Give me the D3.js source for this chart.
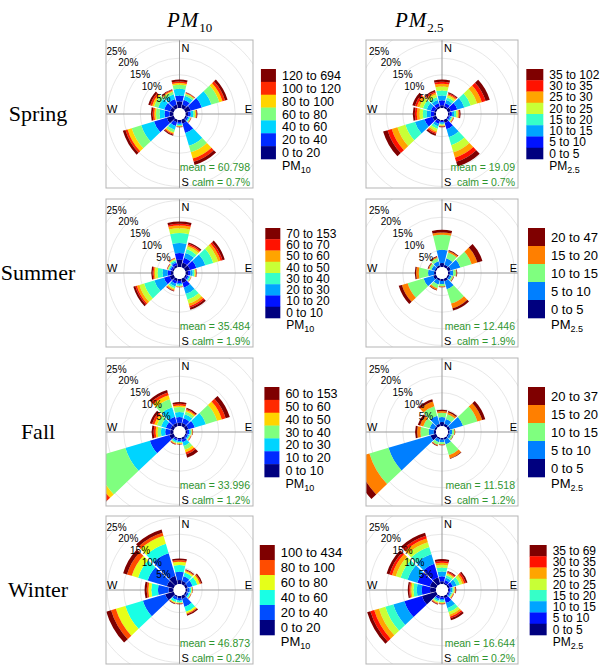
<!DOCTYPE html>
<html>
<head>
<meta charset="utf-8">
<script src="https://cdn.jsdelivr.net/npm/d3@7"></script>
<style>
  body { margin: 0; background: #fff; }
  svg text { font-family: "Liberation Sans", Arial, sans-serif; }
</style>
</head>
<body>
<div id="chart"></div>
<script>
// ---- data ----
var seasons = ["Spring", "Summer", "Fall", "Winter"];
var directions = [0, 30, 60, 90, 120, 150, 180, 210, 240, 270, 300, 330];
var ringPct = [5, 10, 15, 20, 25];

var pm10Mean = [60.798, 35.484, 33.996, 46.873];
var pm25Mean = [19.09, 12.446, 11.518, 16.644];
var calmPct = [0.7, 1.9, 1.2, 0.2];

var binsPM10Spring = ["0 to 20", "20 to 40", "40 to 60", "60 to 80", "80 to 100", "100 to 120", "120 to 694"];
var binsPM10Summer = ["0 to 10", "10 to 20", "20 to 30", "30 to 40", "40 to 50", "50 to 60", "60 to 70", "70 to 153"];
var binsPM10Fall = ["0 to 10", "10 to 20", "20 to 30", "30 to 40", "40 to 50", "50 to 60", "60 to 153"];
var binsPM10Winter = ["0 to 20", "20 to 40", "40 to 60", "60 to 80", "80 to 100", "100 to 434"];
var binsPM25Spring = ["0 to 5", "5 to 10", "10 to 15", "15 to 20", "20 to 25", "25 to 30", "30 to 35", "35 to 102"];
var binsPM25Summer = ["0 to 5", "5 to 10", "10 to 15", "15 to 20", "20 to 47"];
var binsPM25Fall = ["0 to 5", "5 to 10", "10 to 15", "15 to 20", "20 to 37"];
var binsPM25Winter = ["0 to 5", "5 to 10", "10 to 15", "15 to 20", "20 to 25", "25 to 30", "30 to 35", "35 to 69"];

// frequency (%) of each concentration bin, one row per direction (N, 30, 60 ... 330)
var freqPM10Spring = [
  [2.0, 1.8, 2.0, 1.2, 0.5, 0.5, 0.6],
  [1.2, 1.5, 1.2, 0.6, 0.2, 0.2, 0.1],
  [1.7, 3.5, 3.0, 2.5, 1.0, 0.8, 0.8],
  [0.8, 0.8, 0.8, 0.5, 0.3, 0.2, 0.2],
  [0.5, 0.5, 0.4, 0.3, 0.1, 0.1, 0.1],
  [1.2, 3.0, 4.0, 2.0, 2.0, 1.0, 1.0],
  [0.6, 0.5, 0.4, 0.3, 0.2, 0.1, 0.1],
  [0.8, 1.2, 1.2, 0.8, 0.4, 0.3, 0.3],
  [2.2, 4.0, 4.0, 3.0, 1.3, 0.7, 0.8],
  [1.2, 1.5, 1.5, 1.1, 0.5, 0.5, 0.5],
  [1.2, 1.8, 1.9, 1.3, 0.6, 0.6, 0.6],
  [1.2, 1.7, 1.5, 0.8, 0.3, 0.3, 0.2]
];
var freqPM25Spring = [
  [0.8, 1.5, 1.5, 1.5, 1.2, 0.8, 0.6, 0.7],
  [0.6, 1.0, 1.0, 0.8, 0.6, 0.4, 0.3, 0.3],
  [1.0, 2.0, 2.2, 2.0, 2.0, 1.5, 1.2, 1.3],
  [0.5, 0.7, 0.7, 0.6, 0.5, 0.3, 0.2, 0.3],
  [0.3, 0.4, 0.4, 0.3, 0.2, 0.2, 0.1, 0.1],
  [1.0, 2.0, 2.5, 2.5, 2.2, 1.7, 1.3, 1.5],
  [0.3, 0.4, 0.4, 0.3, 0.3, 0.2, 0.1, 0.2],
  [0.5, 0.8, 0.8, 0.8, 0.7, 0.5, 0.4, 0.5],
  [1.2, 2.5, 3.0, 3.0, 2.5, 1.8, 1.3, 1.4],
  [0.6, 1.0, 1.2, 1.2, 1.0, 0.8, 0.6, 0.6],
  [0.6, 1.1, 1.3, 1.2, 1.1, 0.8, 0.6, 0.8],
  [0.6, 1.0, 1.0, 0.9, 0.8, 0.6, 0.4, 0.4]
];
var freqPM10Summer = [
  [2.2, 2.0, 3.0, 3.0, 1.5, 0.8, 0.5, 0.7],
  [1.5, 1.5, 1.5, 1.2, 0.8, 0.5, 0.4, 0.4],
  [1.5, 2.0, 2.8, 2.5, 1.5, 0.8, 0.6, 0.7],
  [0.8, 0.7, 0.7, 0.5, 0.3, 0.2, 0.1, 0.1],
  [0.5, 0.5, 0.4, 0.3, 0.1, 0.1, 0.05, 0.05],
  [1.3, 1.5, 2.0, 1.8, 1.2, 0.8, 0.5, 0.6],
  [0.6, 0.6, 0.5, 0.4, 0.2, 0.1, 0.05, 0.05],
  [0.8, 0.8, 0.8, 0.6, 0.4, 0.3, 0.15, 0.15],
  [1.3, 1.8, 3.0, 3.2, 1.5, 0.8, 0.5, 0.6],
  [0.8, 1.0, 1.5, 1.5, 0.8, 0.4, 0.3, 0.4],
  [0.5, 0.5, 0.4, 0.3, 0.2, 0.1, 0.1, 0.1],
  [0.7, 0.7, 0.5, 0.4, 0.3, 0.2, 0.1, 0.1]
];
var freqPM25Summer = [
  [1.2, 4.0, 4.5, 0.7, 0.8],
  [0.8, 2.0, 1.8, 0.5, 0.3],
  [1.0, 3.0, 3.5, 1.8, 1.6],
  [0.6, 1.0, 0.8, 0.2, 0.2],
  [0.5, 0.7, 0.5, 0.15, 0.15],
  [0.8, 2.5, 4.5, 1.5, 0.7],
  [0.6, 0.9, 0.7, 0.2, 0.1],
  [0.6, 1.2, 1.2, 0.5, 0.2],
  [1.0, 3.0, 5.0, 1.8, 1.0],
  [0.6, 1.8, 2.8, 0.8, 0.4],
  [0.5, 1.0, 0.7, 0.3, 0.2],
  [0.6, 1.3, 1.0, 0.3, 0.3]
];
var freqPM10Fall = [
  [1.0, 1.7, 1.5, 1.5, 0.5, 0.5, 0.5],
  [1.0, 1.5, 1.3, 0.8, 0.5, 0.3, 0.4],
  [1.0, 2.0, 3.5, 3.5, 1.5, 1.2, 1.3],
  [0.5, 0.6, 0.5, 0.3, 0.2, 0.1, 0.1],
  [0.4, 0.5, 0.4, 0.3, 0.2, 0.1, 0.1],
  [0.6, 0.8, 1.2, 1.2, 0.8, 0.7, 1.0],
  [0.4, 0.5, 0.4, 0.3, 0.2, 0.1, 0.1],
  [0.4, 0.5, 0.5, 0.3, 0.2, 0.2, 0.1],
  [1.4, 6.1, 7.7, 10.3, 1.5, 1.3, 1.7],
  [1.0, 1.5, 1.3, 1.0, 0.6, 0.6, 0.6],
  [1.0, 1.5, 1.5, 1.3, 0.8, 0.7, 0.7],
  [1.0, 2.0, 3.0, 2.5, 1.2, 0.9, 0.8]
];
var freqPM25Fall = [
  [1.2, 1.5, 1.3, 0.5, 0.4],
  [0.8, 1.5, 1.5, 0.6, 0.4],
  [0.8, 4.0, 4.5, 1.5, 1.0],
  [0.5, 0.8, 0.6, 0.2, 0.1],
  [0.4, 0.7, 0.5, 0.1, 0.1],
  [0.6, 1.5, 3.4, 1.0, 0.2],
  [0.5, 0.8, 0.6, 0.2, 0.1],
  [0.5, 0.9, 0.8, 0.3, 0.2],
  [1.8, 13.2, 6.0, 4.5, 2.0],
  [0.7, 1.5, 2.5, 1.0, 0.6],
  [0.6, 1.5, 2.0, 1.0, 0.7],
  [0.8, 2.5, 3.0, 1.5, 0.7]
];
var freqPM10Winter = [
  [1.2, 2.5, 2.0, 1.0, 0.5, 0.5],
  [1.0, 1.5, 1.2, 0.5, 0.3, 0.2],
  [0.8, 1.5, 1.5, 0.8, 0.4, 0.4],
  [0.6, 0.7, 0.5, 0.2, 0.1, 0.1],
  [0.5, 0.6, 0.5, 0.2, 0.1, 0.1],
  [1.0, 2.5, 1.5, 0.6, 0.3, 0.4],
  [0.6, 0.8, 0.6, 0.2, 0.15, 0.15],
  [0.5, 0.8, 0.7, 0.3, 0.2, 0.2],
  [2.7, 7.0, 5.5, 3.0, 1.5, 1.5],
  [1.5, 3.2, 2.0, 0.9, 0.5, 0.6],
  [2.2, 6.0, 3.0, 2.0, 1.5, 1.2],
  [2.7, 7.0, 3.0, 2.5, 1.0, 1.0]
];
var freqPM25Winter = [
  [0.8, 1.5, 1.5, 1.2, 0.8, 0.6, 0.5, 0.6],
  [0.5, 0.8, 0.8, 0.7, 0.5, 0.3, 0.3, 0.3],
  [0.6, 1.0, 1.2, 1.0, 0.8, 0.6, 0.5, 0.5],
  [0.3, 0.5, 0.5, 0.4, 0.3, 0.2, 0.1, 0.2],
  [0.3, 0.4, 0.4, 0.3, 0.2, 0.2, 0.1, 0.1],
  [0.8, 1.5, 1.6, 1.2, 0.9, 0.6, 0.5, 0.6],
  [0.4, 0.5, 0.5, 0.4, 0.3, 0.2, 0.1, 0.1],
  [0.4, 0.6, 0.5, 0.4, 0.3, 0.2, 0.2, 0.2],
  [4.5, 5.5, 3.5, 2.5, 2.0, 1.5, 1.2, 1.0],
  [1.8, 2.5, 1.5, 1.0, 0.6, 0.4, 0.3, 0.4],
  [2.0, 4.0, 3.0, 2.2, 1.5, 1.2, 0.8, 0.9],
  [2.2, 4.2, 3.0, 2.3, 1.5, 1.2, 0.8, 1.0]
];

var pm10Bins = [binsPM10Spring, binsPM10Summer, binsPM10Fall, binsPM10Winter];
var pm25Bins = [binsPM25Spring, binsPM25Summer, binsPM25Fall, binsPM25Winter];
var pm10Freq = [freqPM10Spring, freqPM10Summer, freqPM10Fall, freqPM10Winter];
var pm25Freq = [freqPM25Spring, freqPM25Summer, freqPM25Fall, freqPM25Winter];

// ---- layout ----
var colX = [106, 366], colW = [147, 152];
var rowY = [40, 199, 358, 516], panelH = 148;
var legendCenter = [301, 563], legendBox = [15, 17];
var green = "#2f952f";

var svg = d3.select("#chart").append("svg")
    .attr("width", 600)
    .attr("height", 667);

// openair-style jet palette
var jet = d3.piecewise(d3.interpolateRgb,
    ["#00007F", "#0000FF", "#007FFF", "#00FFFF", "#7FFF7F", "#FFFF00", "#FF7F00", "#FF0000", "#7F0000"]);

var rScale = d3.scaleLinear().domain([0, 25]).range([6, 89]);
var halfWidth = 13.5; // degrees either side of sector centre
var arc = d3.arc();
var rad = Math.PI / 180;

var panels = [];
seasons.forEach(function(s, i) {
    panels.push({ row: i, col: 0, bins: pm10Bins[i], freq: pm10Freq[i], mean: pm10Mean[i], sub: "10" });
    panels.push({ row: i, col: 1, bins: pm25Bins[i], freq: pm25Freq[i], mean: pm25Mean[i], sub: "2.5" });
});

// column titles
[["PM", "10", 167], ["PM", "2.5", 395]].forEach(function(t) {
    var txt = svg.append("text")
        .attr("x", t[2]).attr("y", 27)
        .style("font-family", "'Liberation Serif', 'DejaVu Serif', serif")
        .style("font-size", "21px");
    txt.append("tspan").style("font-style", "italic").attr("letter-spacing", 1).text(t[0]);
    txt.append("tspan").attr("dy", 5).style("font-size", "13px").text(t[1]);
});

// row titles
seasons.forEach(function(s, i) {
    svg.append("text")
        .attr("x", 38).attr("y", rowY[i] + panelH / 2 + 7)
        .attr("text-anchor", "middle")
        .style("font-family", "'Liberation Serif', 'DejaVu Serif', serif")
        .style("font-size", "22px")
        .text(s);
});

panels.forEach(function(p, k) {
    var x0 = colX[p.col], y0 = rowY[p.row], w = colW[p.col], h = panelH;
    var cx = x0 + w / 2, cy = y0 + h / 2;
    var nb = p.bins.length;
    var colour = function(b) { return jet(b / (nb - 1)); };

    svg.append("clipPath").attr("id", "clip" + k)
        .append("rect")
        .attr("x", -w / 2).attr("y", -h / 2)
        .attr("width", w).attr("height", h);

    var g = svg.append("g")
        .attr("transform", "translate(" + cx + "," + cy + ")")
        .attr("clip-path", "url(#clip" + k + ")");

    // grid rings
    g.selectAll("circle.ring")
        .data(ringPct)
        .enter().append("circle")
        .attr("class", "ring")
        .attr("r", function(d) { return rScale(d); })
        .attr("fill", "none")
        .attr("stroke", "#e8e8e8");

    // axes
    g.append("line").attr("x1", 0).attr("x2", 0).attr("y1", -h / 2).attr("y2", h / 2)
        .attr("stroke", "#999");
    g.append("line").attr("x1", -w / 2).attr("x2", w / 2).attr("y1", 0).attr("y2", 0)
        .attr("stroke", "#999");

    // stacked wedges
    var segs = [];
    directions.forEach(function(dir, j) {
        var cum = 0;
        p.freq[j].forEach(function(v, b) {
            segs.push({ dir: dir, lo: cum, hi: cum + v, bin: b });
            cum += v;
        });
    });
    g.selectAll("path.seg")
        .data(segs)
        .enter().append("path")
        .attr("class", "seg")
        .attr("d", function(d) {
            return arc({
                innerRadius: rScale(d.lo),
                outerRadius: rScale(d.hi),
                startAngle: (d.dir - halfWidth) * rad,
                endAngle: (d.dir + halfWidth) * rad
            });
        })
        .attr("fill", function(d) { return colour(d.bin); });

    // calm circle
    g.append("circle").attr("r", rScale(0)).attr("fill", "#fff");

    // percentage labels along NW
    g.selectAll("text.pct")
        .data(ringPct)
        .enter().append("text")
        .attr("class", "pct")
        .attr("x", function(d) { return -rScale(d) * Math.SQRT1_2; })
        .attr("y", function(d) { return -rScale(d) * Math.SQRT1_2; })
        .attr("dy", "0.35em")
        .attr("text-anchor", "middle")
        .style("font-size", "10px")
        .text(function(d) { return d + "%"; });

    // frame
    svg.append("rect")
        .attr("x", x0).attr("y", y0).attr("width", w).attr("height", h)
        .attr("fill", "none").attr("stroke", "#b5b5b5");

    // compass letters
    var fs = "11px";
    svg.append("text").attr("x", cx + 2).attr("y", y0 + 12).style("font-size", fs).text("N");
    svg.append("text").attr("x", cx + 2).attr("y", y0 + h - 2).style("font-size", fs).text("S");
    svg.append("text").attr("x", x0 + 1).attr("y", cy - 1).style("font-size", fs).text("W");
    svg.append("text").attr("x", x0 + w - 1).attr("y", cy - 1).attr("text-anchor", "end")
        .style("font-size", fs).text("E");

    // mean and calm
    svg.append("text").attr("x", x0 + w - 3).attr("y", y0 + h - 17)
        .attr("text-anchor", "end").style("font-size", "10.5px").attr("fill", green)
        .text("mean = " + p.mean);
    svg.append("text").attr("x", x0 + w - 3).attr("y", y0 + h - 2)
        .attr("text-anchor", "end").style("font-size", "10.5px").attr("fill", green)
        .text("calm = " + calmPct[p.row] + "%");

    // legend
    var bw = legendBox[p.col], bh = 90 / nb, top = cy - 45;
    var lfs = nb >= 8 ? 12 : (nb >= 7 ? 12.5 : 13);
    var lg = svg.append("g");
    var rev = d3.range(nb).reverse();
    lg.selectAll("rect")
        .data(rev)
        .enter().append("rect")
        .attr("x", 0).attr("y", function(d, i) { return top + i * bh; })
        .attr("width", bw).attr("height", bh + 0.3)
        .attr("fill", function(d) { return colour(d); });
    lg.selectAll("text.lab")
        .data(rev)
        .enter().append("text")
        .attr("class", "lab")
        .attr("x", bw + 6)
        .attr("y", function(d, i) { return top + i * bh + bh / 2; })
        .attr("dy", "0.36em")
        .style("font-size", lfs + "px")
        .text(function(d) { return p.bins[d]; });
    var pm = lg.append("text")
        .attr("x", bw + 6).attr("y", top + 90 + 11)
        .style("font-size", lfs + "px");
    pm.append("tspan").text("PM");
    pm.append("tspan").attr("dy", 3).style("font-size", "9px").text(p.sub);

    var lw = lg.node().getBBox().width;
    lg.attr("transform", "translate(" + (legendCenter[p.col] - lw / 2) + ",0)");
});
</script>
</body>
</html>
